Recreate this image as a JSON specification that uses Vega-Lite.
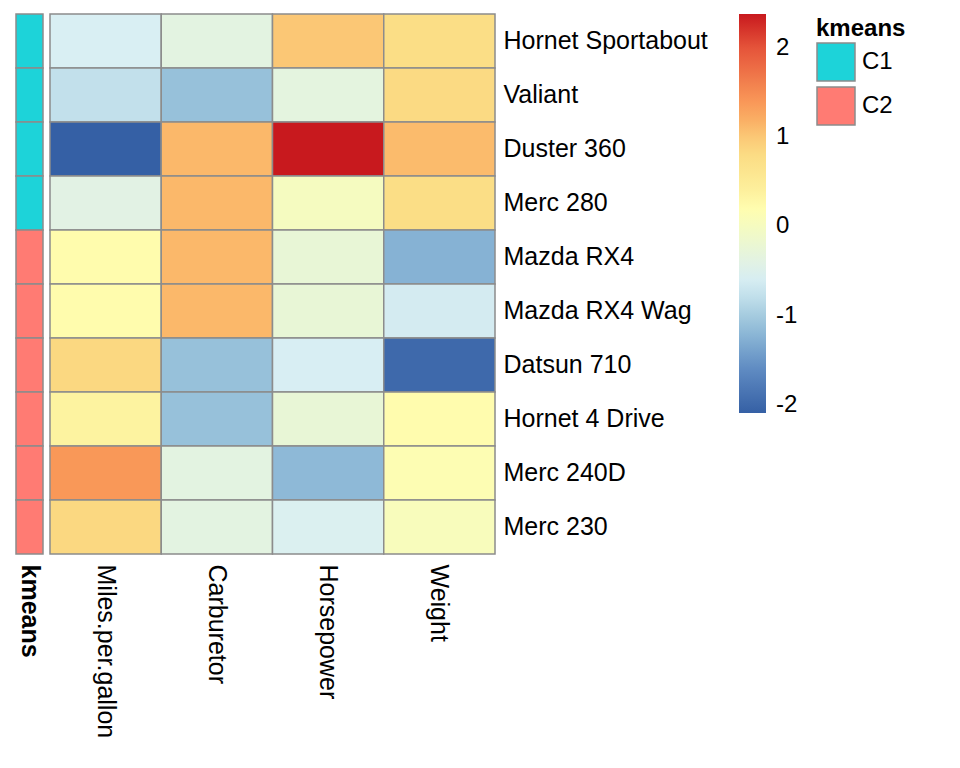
{
  "$schema": "https://vega.github.io/schema/vega-lite/v6.json",
  "background": "white",
  "padding": {"left": 15, "top": 13, "right": 0, "bottom": 0},
  "config": {
    "view": {"stroke": null},
    "font": "Liberation Sans",
    "concat": {"spacing": 5},
    "axis": {"labelColor": "#000000"},
    "legend": {"labelColor": "#000000", "titleColor": "#000000"}
  },
  "datasets": {
    "annot": [
      {"car": "Hornet Sportabout", "kmeans": "C1", "annotation": "kmeans"},
      {"car": "Valiant", "kmeans": "C1", "annotation": "kmeans"},
      {"car": "Duster 360", "kmeans": "C1", "annotation": "kmeans"},
      {"car": "Merc 280", "kmeans": "C1", "annotation": "kmeans"},
      {"car": "Mazda RX4", "kmeans": "C2", "annotation": "kmeans"},
      {"car": "Mazda RX4 Wag", "kmeans": "C2", "annotation": "kmeans"},
      {"car": "Datsun 710", "kmeans": "C2", "annotation": "kmeans"},
      {"car": "Hornet 4 Drive", "kmeans": "C2", "annotation": "kmeans"},
      {"car": "Merc 240D", "kmeans": "C2", "annotation": "kmeans"},
      {"car": "Merc 230", "kmeans": "C2", "annotation": "kmeans"}
    ],
    "cells": [
      {"car": "Hornet Sportabout", "variable": "Miles.per.gallon", "value": -0.57},
      {"car": "Hornet Sportabout", "variable": "Carburetor", "value": -0.37},
      {"car": "Hornet Sportabout", "variable": "Horsepower", "value": 1.01},
      {"car": "Hornet Sportabout", "variable": "Weight", "value": 0.77},
      {"car": "Valiant", "variable": "Miles.per.gallon", "value": -0.78},
      {"car": "Valiant", "variable": "Carburetor", "value": -1.11},
      {"car": "Valiant", "variable": "Horsepower", "value": -0.35},
      {"car": "Valiant", "variable": "Weight", "value": 0.82},
      {"car": "Duster 360", "variable": "Miles.per.gallon", "value": -2.09},
      {"car": "Duster 360", "variable": "Carburetor", "value": 1.11},
      {"car": "Duster 360", "variable": "Horsepower", "value": 2.38},
      {"car": "Duster 360", "variable": "Weight", "value": 1.09},
      {"car": "Merc 280", "variable": "Miles.per.gallon", "value": -0.40},
      {"car": "Merc 280", "variable": "Carburetor", "value": 1.11},
      {"car": "Merc 280", "variable": "Horsepower", "value": 0.00},
      {"car": "Merc 280", "variable": "Weight", "value": 0.77},
      {"car": "Mazda RX4", "variable": "Miles.per.gallon", "value": 0.22},
      {"car": "Mazda RX4", "variable": "Carburetor", "value": 1.11},
      {"car": "Mazda RX4", "variable": "Horsepower", "value": -0.25},
      {"car": "Mazda RX4", "variable": "Weight", "value": -1.25},
      {"car": "Mazda RX4 Wag", "variable": "Miles.per.gallon", "value": 0.22},
      {"car": "Mazda RX4 Wag", "variable": "Carburetor", "value": 1.11},
      {"car": "Mazda RX4 Wag", "variable": "Horsepower", "value": -0.25},
      {"car": "Mazda RX4 Wag", "variable": "Weight", "value": -0.62},
      {"car": "Datsun 710", "variable": "Miles.per.gallon", "value": 0.84},
      {"car": "Datsun 710", "variable": "Carburetor", "value": -1.11},
      {"car": "Datsun 710", "variable": "Horsepower", "value": -0.58},
      {"car": "Datsun 710", "variable": "Weight", "value": -1.99},
      {"car": "Hornet 4 Drive", "variable": "Miles.per.gallon", "value": 0.35},
      {"car": "Hornet 4 Drive", "variable": "Carburetor", "value": -1.11},
      {"car": "Hornet 4 Drive", "variable": "Horsepower", "value": -0.25},
      {"car": "Hornet 4 Drive", "variable": "Weight", "value": 0.21},
      {"car": "Merc 240D", "variable": "Miles.per.gallon", "value": 1.39},
      {"car": "Merc 240D", "variable": "Carburetor", "value": -0.37},
      {"car": "Merc 240D", "variable": "Horsepower", "value": -1.18},
      {"car": "Merc 240D", "variable": "Weight", "value": 0.15},
      {"car": "Merc 230", "variable": "Miles.per.gallon", "value": 0.84},
      {"car": "Merc 230", "variable": "Carburetor", "value": -0.37},
      {"car": "Merc 230", "variable": "Horsepower", "value": -0.54},
      {"car": "Merc 230", "variable": "Weight", "value": 0.05}
    ]
  },
  "hconcat": [
    {
      "width": 27,
      "height": 540,
      "data": {"name": "annot"},
      "mark": {"type": "rect", "stroke": "#8C8C8C", "strokeWidth": 1.5},
      "encoding": {
        "x": {
          "field": "annotation", "type": "nominal",
          "axis": {"title": null, "labelAngle": 90, "labelFontWeight": "bold", "labelFontSize": 25, "ticks": false, "domain": false, "labelPadding": 10, "labelLimit": 400}
        },
        "y": {
          "field": "car", "type": "nominal",
          "sort": ["Hornet Sportabout", "Valiant", "Duster 360", "Merc 280", "Mazda RX4", "Mazda RX4 Wag", "Datsun 710", "Hornet 4 Drive", "Merc 240D", "Merc 230"],
          "axis": null
        },
        "color": {
          "field": "kmeans", "type": "nominal",
          "scale": {"domain": ["C1", "C2"], "range": ["#1DD3D9", "#FF7B73"]},
          "legend": null
        }
      }
    },
    {
      "width": 445,
      "height": 540,
      "layer": [
        {
          "data": {"name": "cells"},
          "mark": {"type": "rect", "stroke": "#8C8C8C", "strokeWidth": 1.5},
          "encoding": {
            "x": {
              "field": "variable", "type": "nominal",
              "sort": ["Miles.per.gallon", "Carburetor", "Horsepower", "Weight"],
              "axis": {"title": null, "orient": "bottom", "labelAngle": 90, "labelFontSize": 25, "ticks": false, "domain": false, "labelPadding": 10, "labelLimit": 400}
            },
            "y": {
              "field": "car", "type": "nominal",
              "sort": ["Hornet Sportabout", "Valiant", "Duster 360", "Merc 280", "Mazda RX4", "Mazda RX4 Wag", "Datsun 710", "Hornet 4 Drive", "Merc 240D", "Merc 230"],
              "axis": {"title": null, "orient": "right", "ticks": false, "domain": false, "labelFontSize": 25, "labelPadding": 8, "labelLimit": 400}
            },
            "color": {
              "field": "value", "type": "quantitative",
              "scale": {
                "domain": [-2.09, -1.6, -1.25, -1.1, -0.78, -0.57, -0.37, -0.25, 0, 0.2, 0.35, 0.8, 1.0, 1.1, 1.39, 2.0, 2.38],
                "range": ["#3560A5", "#5F8BC2", "#86B2D4", "#98C2DA", "#C2E0EB", "#D9EFF3", "#E3F3E1", "#E8F6D6", "#F5FBC0", "#FFFDAF", "#FDF3A0", "#FBDC84", "#FBC876", "#FBB96B", "#F99858", "#E5543A", "#C8191E"],
                "interpolate": "rgb"
              },
              "legend": {
                "title": null,
                "orient": "none",
                "legendX": 689,
                "legendY": 0,
                "direction": "vertical",
                "gradientLength": 399,
                "gradientThickness": 27,
                "gradientStrokeWidth": 0,
                "values": [-2, -1, 0, 1, 2],
                "labelExpr": "'' + datum.value",
                "labelFontSize": 24,
                "labelOffset": 10,
                "labelOverlap": false
              }
            }
          }
        },
        {
          "data": {"name": "annot"},
          "mark": {"type": "point", "filled": true, "opacity": 0, "size": 0},
          "encoding": {
            "color": {
              "field": "kmeans", "type": "nominal",
              "scale": {"domain": ["C1", "C2"], "range": ["#1DD3D9", "#FF7B73"]},
              "legend": {
                "title": "kmeans",
                "orient": "none",
                "legendX": 766,
                "legendY": 3,
                "titleFontSize": 24,
                "titleFontWeight": "bold",
                "titlePadding": 1,
                "symbolType": "square",
                "symbolSize": 1444,
                "symbolOpacity": 1,
                "symbolStrokeColor": "#8C8C8C",
                "symbolStrokeWidth": 1.5,
                "rowPadding": 0,
                "labelFontSize": 24,
                "labelOffset": 6
              }
            }
          }
        }
      ],
      "resolve": {"scale": {"color": "independent"}, "legend": {"color": "independent"}}
    }
  ],
  "resolve": {"scale": {"color": "independent"}, "legend": {"color": "independent"}}
}
